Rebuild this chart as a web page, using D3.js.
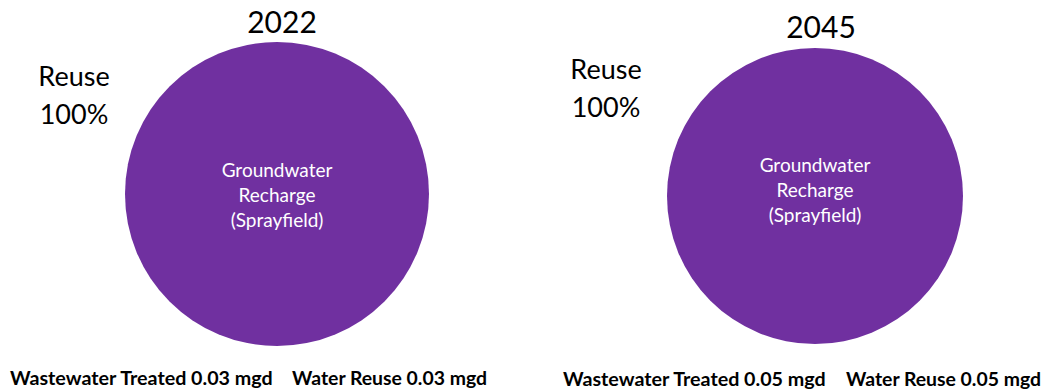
<!DOCTYPE html>
<html>
<head>
<meta charset="utf-8">
<script src="https://cdn.jsdelivr.net/npm/d3@7"></script>
<style>
  html, body { margin: 0; padding: 0; background: #fff; }
  svg { display: block; }
  text { font-family: Lato, "Open Sans", sans-serif; }
</style>
</head>
<body>
<svg id="chart" width="1047" height="392"></svg>
<script>
// Planning years shown side by side
const years = ["2022", "2045"];
// Disposal categories (only one in use)
const categories = ["Groundwater Recharge (Sprayfield)"];
const categoryLines = [["Groundwater", "Recharge", "(Sprayfield)"]];
// Flows in million gallons per day
const wastewaterTreated = [0.03, 0.05];
const waterReuse = [0.03, 0.05];
// Reuse flow by category, per year
const recharge2022 = [0.03];
const recharge2045 = [0.05];
const rechargeByYear = [recharge2022, recharge2045];
const reuseLabel = "Reuse";

const colors = ["#7030A0"];

// Panel geometry
const panels = [
  { cx: 277, cy: 194, r: 152, titleX: 282, titleY: 33, reuseX: 74, reuseY: 86, labelDy: -17,
    treatedX: 10, reuseFlowX: 292, bottomY: 385 },
  { cx: 815, cy: 196, r: 148, titleX: 821, titleY: 38, reuseX: 606, reuseY: 79, labelDy: -24,
    treatedX: 563, reuseFlowX: 846, bottomY: 386 }
];

const svg = d3.select("#chart");
const color = d3.scaleOrdinal().domain(categories).range(colors);
const pie = d3.pie().sort(null).value(d => d.value);
const fmt = d3.format(".2f");
const pct = d3.format(".0%");

years.forEach((year, i) => {
  const p = panels[i];
  const data = categories.map((c, k) => ({ name: c, lines: categoryLines[k], value: rechargeByYear[i][k] }));
  const total = d3.sum(data, d => d.value);
  const arc = d3.arc().innerRadius(0).outerRadius(p.r);

  const g = svg.append("g").attr("transform", `translate(${p.cx},${p.cy})`);
  const slices = g.selectAll("g.slice").data(pie(data)).join("g").attr("class", "slice");
  slices.append("path")
    .attr("d", arc)
    .attr("fill", d => color(d.data.name));

  // Category name inside the slice
  slices.each(function(d) {
    const full = (d.endAngle - d.startAngle) >= 2 * Math.PI - 1e-6;
    const [lx, ly] = full ? [0, 0] : arc.centroid(d);
    const t = d3.select(this).append("text")
      .attr("text-anchor", "middle")
      .attr("fill", "#fff")
      .attr("font-size", 19);
    d.data.lines.forEach((line, j) => {
      t.append("tspan").attr("x", lx).attr("y", ly + p.labelDy + j * 25).text(line);
    });
  });

  // Year title
  svg.append("text")
    .attr("x", p.titleX).attr("y", p.titleY)
    .attr("text-anchor", "middle")
    .attr("font-size", 30)
    .attr("fill", "#000")
    .text(year);

  // Reuse share callout
  const share = d3.sum(rechargeByYear[i]) / total;
  const callout = svg.append("text")
    .attr("text-anchor", "middle")
    .attr("font-size", 27)
    .attr("fill", "#000");
  callout.append("tspan").attr("x", p.reuseX).attr("y", p.reuseY).text(reuseLabel);
  callout.append("tspan").attr("x", p.reuseX).attr("y", p.reuseY + 38).text(pct(share));

  // Flow summary
  svg.append("text")
    .attr("x", p.treatedX).attr("y", p.bottomY)
    .attr("font-size", 19.7).attr("font-weight", "bold").attr("fill", "#000")
    .text(`Wastewater Treated ${fmt(wastewaterTreated[i])} mgd`);
  svg.append("text")
    .attr("x", p.reuseFlowX).attr("y", p.bottomY)
    .attr("font-size", 19.4).attr("font-weight", "bold").attr("fill", "#000")
    .text(`Water Reuse ${fmt(waterReuse[i])} mgd`);
});
</script>
</body>
</html>
